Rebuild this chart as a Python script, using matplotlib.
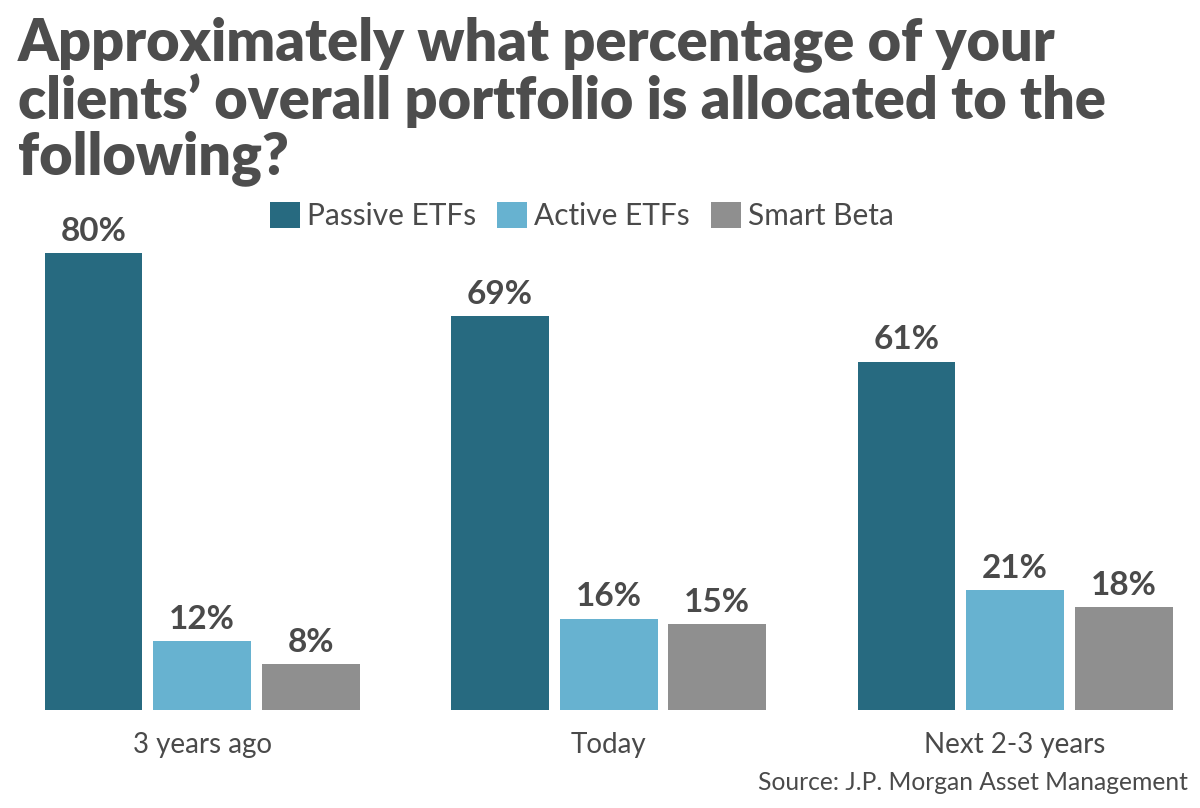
import numpy as np
import matplotlib.pyplot as plt

plt.rcParams['font.family'] = ['Lato', 'DejaVu Sans']

categories = ["3 years ago", "Today", "Next 2-3 years"]
series_names = ["Passive ETFs", "Active ETFs", "Smart Beta"]
passive = [80, 69, 61]
active = [12, 16, 21]
smart_beta = [8, 15, 18]
colors = ["#276a80", "#67b2d0", "#8f8f8f"]
text_color = "#4a4a4a"

fig = plt.figure(figsize=(12, 8.08), dpi=100)
ax = fig.add_axes([0, 98 / 808, 1, 520 / 808])

x = np.arange(len(categories))
width = 0.241
step = 0.267
for i, (name, vals) in enumerate(zip(series_names, [passive, active, smart_beta])):
    pos = x + (i - 1) * step
    bars = ax.bar(pos, vals, width, color=colors[i], label=name)
    for b, v in zip(bars, vals):
        ax.text(b.get_x() + b.get_width() / 2, v + 1.3, f"{v}%", ha="center",
                va="bottom", fontsize=24, fontweight="bold", color=text_color)

ax.set_xlim(-0.497, 2.455)
ax.set_ylim(0, 91.07)
ax.axis("off")

for xi, c in zip(x, categories):
    ax.text(xi, -6.2, c, ha="center", va="center", fontsize=20, color=text_color)

ax.legend(loc="center", bbox_to_anchor=(582 / 1200, (710 - 216) / 520), ncol=3,
          frameon=False, fontsize=21.5, handlelength=1.0, handleheight=0.95,
          handletextpad=0.25, columnspacing=0.7, labelcolor=text_color)

fig.text(18 / 1200, 1 - 16 / 808,
         "Approximately what percentage of your\nclients\u2019 overall portfolio is allocated to the\nfollowing?",
         ha="left", va="top", fontsize=41.5, fontweight="heavy", color="#4d4d4d",
         linespacing=1.04)

fig.text(1188 / 1200, 1 - 782 / 808, "Source: J.P. Morgan Asset Management",
         ha="right", va="center", fontsize=17.7, color=text_color)

fig.savefig("out.png", dpi=100)
